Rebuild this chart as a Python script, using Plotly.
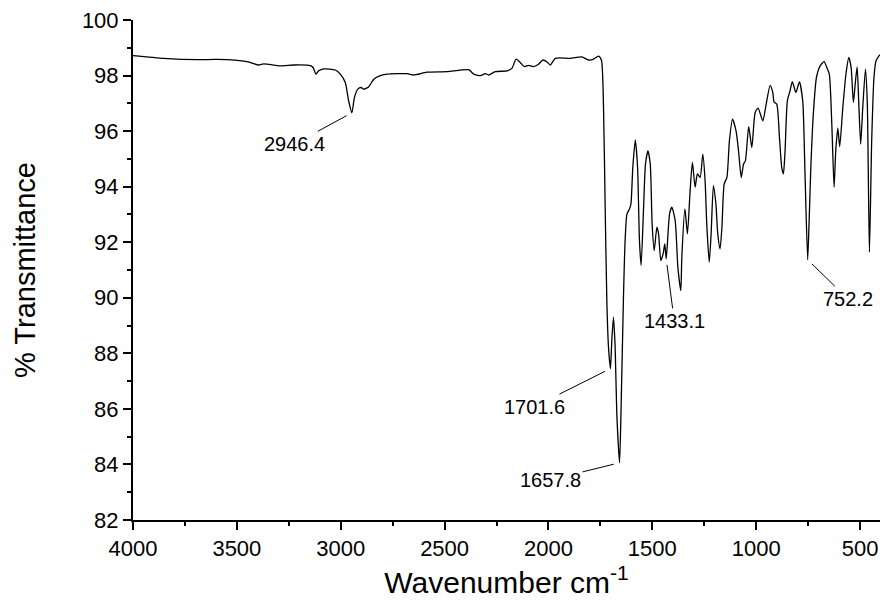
import plotly.graph_objects as go

# FTIR spectrum: wavenumber (cm-1) and % transmittance
wavenumber = [
    4000, 3852, 3691, 3595, 3451, 3395, 3371, 3290, 3226, 3146, 3133, 3119, 3106, 3082,
    3026, 3002, 2978, 2962, 2946.4, 2934, 2918, 2902, 2890, 2866, 2841, 2813, 2777, 2681,
    2649, 2585, 2488, 2384, 2360, 2328, 2304, 2288, 2256, 2200, 2176, 2156, 2136, 2116,
    2096, 2072, 2048, 2026, 2007, 1991, 1967, 1895, 1839, 1807, 1783, 1759, 1745, 1735,
    1727, 1719, 1711, 1701.6, 1695, 1687, 1679, 1671, 1657.8, 1651, 1639, 1631, 1622, 1610,
    1603, 1594, 1582, 1571, 1562, 1554, 1542, 1533, 1521, 1510, 1501, 1491, 1478, 1470,
    1459, 1448, 1440, 1433.1, 1417, 1406, 1390, 1377, 1363, 1358, 1343, 1331, 1318, 1307,
    1294, 1283, 1270, 1257, 1246, 1238, 1226, 1217, 1206, 1194, 1185, 1174, 1165, 1154,
    1141, 1129, 1114, 1097, 1085, 1072, 1061, 1052, 1036, 1021, 1005, 991, 968, 952, 933,
    920, 914, 901, 888, 877, 869, 861, 850, 837, 826, 809, 792, 776, 765, 752.2, 745, 737,
    725, 710, 692, 673, 660, 648, 636, 625, 617, 607, 598, 583, 567, 554, 543, 532, 522,
    514, 506, 497, 487, 474, 465, 455, 444, 433, 423, 409, 404,
]
transmittance = [
    98.72, 98.62, 98.57, 98.58, 98.50, 98.38, 98.42, 98.35, 98.38, 98.36, 98.29, 98.05, 98.17, 98.24,
    98.20, 98.05, 97.75, 97.09, 96.66, 97.21, 97.51, 97.57, 97.51, 97.59, 97.87, 97.99, 98.05, 98.07,
    98.02, 98.12, 98.14, 98.21, 98.05, 98.00, 98.07, 98.02, 98.14, 98.17, 98.26, 98.59, 98.47, 98.32,
    98.37, 98.32, 98.41, 98.56, 98.49, 98.38, 98.62, 98.62, 98.67, 98.56, 98.59, 98.70, 98.55, 96.85,
    93.26, 89.90, 88.22, 87.45, 88.47, 89.30, 88.22, 85.83, 84.06, 85.83, 90.00, 92.06, 93.02, 93.20,
    93.38, 94.69, 95.68, 94.69, 92.06, 91.16, 93.26, 94.81, 95.29, 94.81, 92.66, 91.70, 92.54, 92.30,
    91.34, 91.58, 91.94, 91.40, 93.02, 93.26, 92.78, 91.10, 90.26, 91.46, 93.20, 92.30, 93.86, 94.87,
    93.98, 94.46, 94.33, 95.17, 94.21, 92.66, 91.28, 92.30, 94.04, 93.38, 92.30, 91.76, 92.54, 94.10,
    94.33, 95.65, 96.43, 96.01, 95.29, 94.33, 94.81, 94.93, 96.16, 95.41, 96.67, 96.83, 96.37, 96.97, 97.65,
    97.39, 97.05, 96.97, 95.77, 94.69, 94.46, 95.29, 97.09, 97.45, 97.78, 97.39, 97.77, 97.09, 94.46, 91.37, 92.80, 94.69,
    96.61, 97.93, 98.35, 98.50, 98.29, 98.05, 96.25, 93.98, 95.29, 96.11, 95.44, 96.85, 98.11, 98.65, 98.29, 97.03, 97.81,
    98.31, 96.97, 95.53, 96.85, 98.23, 96.97, 91.64, 95.65, 97.93, 98.53, 98.71, 98.75,
]

# labelled bands: wavenumber, and label offset (px) from the band minimum
peak_labels = [2946.4, 1701.6, 1657.8, 1433.1, 752.2]
label_dx = [-57, -76, -69, 8, 40]
label_dy = [31, 38, 17, 62, 39]

font_family = "Liberation Sans, Arial, sans-serif"

fig = go.Figure()
fig.add_trace(go.Scatter(
    x=wavenumber, y=transmittance, mode="lines",
    line=dict(color="black", width=1.3, shape="spline", smoothing=0.6),
    hoverinfo="skip", showlegend=False,
))

for wn, dx, dy in zip(peak_labels, label_dx, label_dy):
    t = transmittance[wavenumber.index(wn)]
    fig.add_annotation(
        x=wn, y=t, text=f"{wn:.1f}", showarrow=True,
        ax=dx, ay=dy, arrowhead=0, arrowwidth=1, arrowcolor="black",
        standoff=6, font=dict(size=20, color="black", family=font_family),
    )

fig.update_layout(
    width=882, height=605,
    margin=dict(l=133, r=2, t=20, b=85),
    paper_bgcolor="white", plot_bgcolor="white",
    font=dict(family=font_family, color="black"),
    showlegend=False,
)
fig.update_xaxes(
    range=[4000, 404], autorange=False,
    tickmode="linear", tick0=500, dtick=500,
    ticks="outside", ticklen=8, tickwidth=1.5, tickcolor="black",
    minor=dict(dtick=250, tick0=250, ticks="outside", ticklen=4, tickwidth=1.5, tickcolor="black"),
    showline=True, linecolor="black", linewidth=2,
    showgrid=False, zeroline=False,
    tickfont=dict(size=22, color="black"),
    title=dict(text="Wavenumber cm<sup>-1</sup>", font=dict(size=30, color="black"), standoff=10),
)
fig.update_yaxes(
    range=[82, 100], autorange=False,
    tickmode="linear", tick0=82, dtick=2,
    ticks="outside", ticklen=8, tickwidth=1.5, tickcolor="black",
    minor=dict(dtick=1, tick0=82, ticks="outside", ticklen=4, tickwidth=1.5, tickcolor="black"),
    showline=True, linecolor="black", linewidth=2,
    showgrid=False, zeroline=False,
    tickfont=dict(size=22, color="black"),
    title=dict(text="% Transmittance", font=dict(size=29, color="black"), standoff=38),
)

fig.write_html("out.html")
